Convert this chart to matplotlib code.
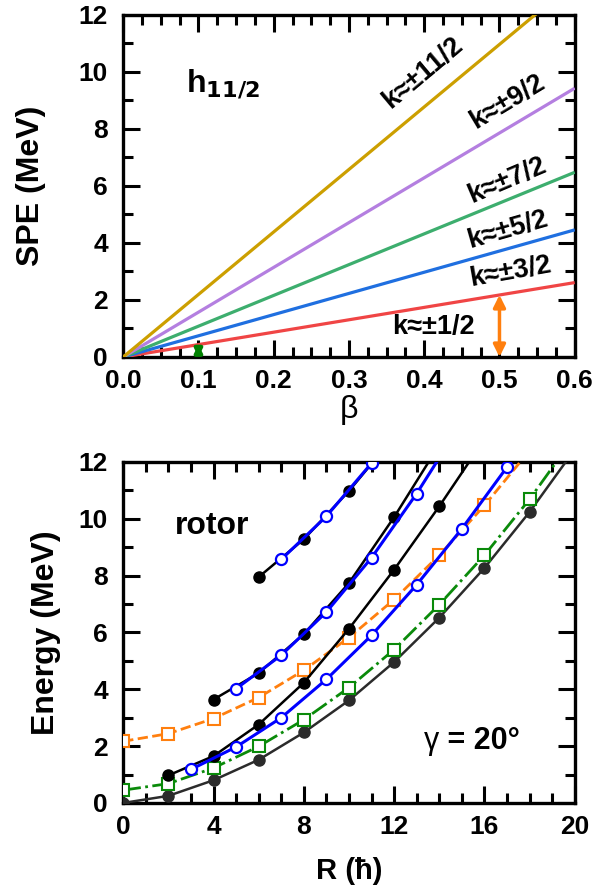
import matplotlib
matplotlib.use("Agg")
import matplotlib.pyplot as plt
from matplotlib.ticker import MultipleLocator

plt.rcParams['font.family'] = ['Liberation Sans', 'DejaVu Sans']

# ---------------- Top panel data ----------------
beta = [0.0, 0.6]
spe_labels = ["k≈±3/2", "k≈±5/2", "k≈±7/2", "k≈±9/2", "k≈±11/2"]
spe_end = [2.61, 4.46, 6.48, 9.43, 13.16]
spe_colors = ["#F04545", "#1F6FE0", "#3DAE6E", "#B47FE0", "#CC9F00"]
label_pos = [(0.514, 2.98), (0.511, 4.46), (0.51, 6.2), (0.511, 8.95), (0.398, 9.96)]
label_rot = [10, 16, 23, 31, 40]

# ---------------- Bottom panel data ----------------
R_yrast = [0, 2, 4, 6, 8, 10, 12, 14, 16, 18, 20]
E_yrast = [0.0, 0.25, 0.80, 1.52, 2.48, 3.61, 4.96, 6.52, 8.27, 10.24, 12.44]

R_green = [0, 2, 4, 6, 8, 10, 12, 14, 16, 18, 20]
E_green = [0.45, 0.68, 1.23, 1.99, 2.93, 4.06, 5.40, 6.98, 8.72, 10.69, 12.9]

R_orange = [0, 2, 4, 6, 8, 10, 12, 14, 16, 18]
E_orange = [2.17, 2.44, 2.97, 3.71, 4.67, 5.82, 7.16, 8.72, 10.47, 12.4]

R_blue1 = [3, 5, 7, 9, 11, 13, 15, 17, 19]
E_blue1 = [1.18, 1.97, 3.00, 4.35, 5.90, 7.68, 9.65, 11.82, 14.2]

R_black1 = [2, 4, 6, 8, 10, 12, 14, 16]
E_black1 = [0.97, 1.65, 2.76, 4.23, 6.13, 8.21, 10.44, 12.8]

R_black2 = [4, 6, 8, 10, 12, 14]
E_black2 = [3.64, 4.57, 5.94, 7.74, 10.06, 12.6]

R_blue2 = [5, 7, 9, 11, 13, 15]
E_blue2 = [4.02, 5.20, 6.72, 8.63, 10.89, 13.4]

R_black3 = [6, 8, 10, 12]
E_black3 = [7.95, 9.28, 10.98, 12.9]

R_blue3 = [7, 9, 11]
E_blue3 = [8.57, 10.09, 11.96]

fig = plt.figure(figsize=(6.16, 8.9), dpi=100)
ax1 = fig.add_axes([0.200, 0.5989, 0.733, 0.3843])
ax2 = fig.add_axes([0.200, 0.0978, 0.733, 0.3831])

def style(ax):
    for s in ax.spines.values():
        s.set_linewidth(2.4)
    ax.tick_params(which='both', direction='in', top=True, right=True, width=2.2)
    ax.tick_params(which='major', length=12, labelsize=19)
    ax.tick_params(axis='x', which='major', pad=9)
    ax.tick_params(axis='y', which='major', pad=11)
    ax.tick_params(which='minor', length=7)
    for lab in ax.get_xticklabels() + ax.get_yticklabels():
        lab.set_fontweight('bold')

# ---------------- Top panel ----------------
for end, c in zip(spe_end, spe_colors):
    ax1.plot(beta, [0, end], color=c, lw=2.3, solid_capstyle='butt', zorder=3)

for lab, (x, y), rot in zip(spe_labels, label_pos, label_rot):
    ax1.text(x, y, lab, rotation=rot, fontsize=19.5, fontweight='bold',
             ha='center', va='center', rotation_mode='anchor')
ax1.text(0.412, 1.05, "k≈±1/2", fontsize=19.5, fontweight='bold', ha='center', va='center')
ax1.text(0.083, 9.6, r"h$_{\mathbf{11/2}}$", fontsize=23, fontweight='bold', ha='left', va='center')

ax1.annotate('', xy=(0.5, 0.0), xytext=(0.5, 0.435 * 0.5 / 0.1),
             arrowprops=dict(arrowstyle='<|-|>', color='#FF7F0E', lw=2.5,
                             mutation_scale=18, shrinkA=0, shrinkB=0), zorder=4)
ax1.annotate('', xy=(0.1, 0.0), xytext=(0.1, 0.435),
             arrowprops=dict(arrowstyle='<|-|>', color='#008000', lw=3,
                             mutation_scale=10, shrinkA=0, shrinkB=0), zorder=4)

ax1.set_xlim(0, 0.6)
ax1.set_ylim(0, 12)
ax1.xaxis.set_major_locator(MultipleLocator(0.1))
ax1.xaxis.set_minor_locator(MultipleLocator(0.025))
ax1.yaxis.set_major_locator(MultipleLocator(2))
ax1.yaxis.set_minor_locator(MultipleLocator(1))
ax1.set_xticks([0, 0.1, 0.2, 0.3, 0.4, 0.5, 0.6])
ax1.set_xticklabels(["0.0", "0.1", "0.2", "0.3", "0.4", "0.5", "0.6"])
ax1.set_ylabel("SPE (MeV)", fontsize=23, fontweight='bold', va='center')
ax1.yaxis.set_label_coords(-0.205, 0.5)
ax1.set_xlabel("β", fontsize=23, va='center')
ax1.xaxis.set_label_coords(0.5, -0.155)
style(ax1)

# ---------------- Bottom panel ----------------
ms = 8
ax2.plot(R_yrast, E_yrast, '-o', color='#2b2b2b', lw=1.8, ms=ms, zorder=3)
ax2.plot(R_green, E_green, linestyle='-.', marker='s', color='#0A8A0A', lw=2.0,
         ms=ms, mfc='white', mew=1.5, zorder=3)
ax2.plot(R_orange, E_orange, linestyle='--', marker='s', color='#FF7F0E', lw=2.0,
         ms=ms, mfc='white', mew=1.5, zorder=3)
ax2.plot(R_black1, E_black1, '-o', color='black', lw=1.8, ms=ms, zorder=3)
ax2.plot(R_black2, E_black2, '-o', color='black', lw=1.8, ms=ms, zorder=3)
ax2.plot(R_black3, E_black3, '-o', color='black', lw=1.8, ms=ms, zorder=3)
ax2.plot(R_blue1, E_blue1, '-o', color='#0000FF', lw=2.2, ms=ms, mfc='white', mew=1.6, zorder=4)
ax2.plot(R_blue2, E_blue2, '-o', color='#0000FF', lw=2.2, ms=ms, mfc='white', mew=1.6, zorder=4)
ax2.plot(R_blue3, E_blue3, '-o', color='#0000FF', lw=2.2, ms=ms, mfc='white', mew=1.6, zorder=4)

ax2.text(2.3, 9.75, "rotor", fontsize=23, fontweight='bold', ha='left', va='center')
ax2.text(13.3, 2.18, "γ", fontsize=22, ha='left', va='center')
ax2.text(14.0, 2.18, " = 20°", fontsize=22, fontweight='bold', ha='left', va='center')

ax2.set_xlim(0, 20)
ax2.set_ylim(0, 12)
ax2.xaxis.set_major_locator(MultipleLocator(4))
ax2.xaxis.set_minor_locator(MultipleLocator(1))
ax2.yaxis.set_major_locator(MultipleLocator(2))
ax2.yaxis.set_minor_locator(MultipleLocator(1))
ax2.set_ylabel("Energy (MeV)", fontsize=23, fontweight='bold', va='center')
ax2.yaxis.set_label_coords(-0.172, 0.5)
ax2.set_xlabel("R (ħ)", fontsize=21, fontweight='bold', va='center')
ax2.xaxis.set_label_coords(0.5, -0.2)
style(ax2)

fig.savefig("out.png", dpi=100)
